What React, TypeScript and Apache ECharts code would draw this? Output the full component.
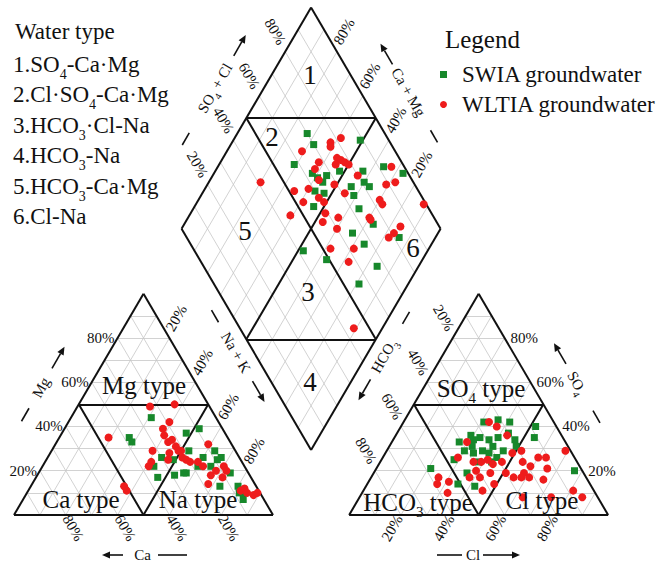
import React, { useEffect, useRef } from "react";
import * as echarts from "echarts";

const SERIF = "Liberation Serif, Times New Roman, serif";
const GREEN = "#17882b";
const RED = "#ee1c1c";
const INK = "#111111";

// ---- geometry constants (unit: triangle side = 1) ----
const H = Math.sqrt(3) / 2;
const GAP = 0.294;
const X_MAX = 2 + GAP;
const Y_MAX = 2;
const RIGHT_OX = 1 + GAP;
const DB = [1 + GAP / 2, GAP * H];

// ---- tick labels ----
const TICKS = [20, 40, 60, 80];
const GRID_STEPS = [10, 20, 30, 40, 50, 60, 70, 80, 90];

// ---- data: cation triangle [Mg %, Na+K %] ----
const swiaCation = [
  [44, 31], [35, 27], [33, 29], [37, 48], [39, 52], [26, 44], [22, 43], [17, 47], [18, 53],
  [19, 57], [22, 60], [26, 60], [29, 63], [26, 67], [22, 65], [19, 74], [13, 73], [13, 80],
  [10, 84], [7, 85], [29, 53], [25, 49], [25, 66], [10, 82], [19, 56],
];
const wltiaCation = [
  [49, 28], [50, 37], [35, 19], [42, 39], [39, 38], [36, 40], [33, 43], [34, 44], [31, 47],
  [29, 49], [29, 39], [24, 41], [22, 41], [25, 47], [26, 52], [25, 54], [24, 56], [24, 59],
  [22, 62], [32, 59], [18, 67], [20, 68], [22, 70], [20, 72], [17, 72], [14, 68], [13, 36],
  [11, 38], [11, 82], [12, 83], [10, 85], [9, 88], [10, 89], [28, 46], [29, 50],
];

// ---- data: anion triangle [SO4 %, Cl %] ----
const swiaAnion = [
  [42, 31], [43, 36], [42, 41], [40, 52], [35, 54], [33, 26], [36, 29], [34, 31], [35, 33],
  [34, 37], [31, 40], [35, 40], [37, 43], [34, 47], [31, 49], [29, 45], [29, 30], [28, 34],
  [29, 37], [28, 40], [26, 44], [25, 28], [24, 38], [24, 43], [19, 36], [21, 21], [14, 35],
  [13, 42], [20, 77], [31, 32],
];
const wltiaAnion = [
  [42, 33], [40, 37], [36, 43], [33, 29], [26, 29], [24, 36], [24, 39], [25, 41], [23, 44],
  [24, 47], [20, 39], [17, 38], [17, 42], [19, 45], [19, 51], [28, 49], [29, 52], [24, 55],
  [19, 58], [22, 59], [17, 55], [17, 58], [17, 61], [26, 60], [26, 63], [16, 67], [29, 69],
  [21, 66], [11, 81], [8, 86], [8, 74], [17, 26], [15, 31], [10, 33], [14, 27], [14, 49],
  [11, 46], [8, 63],
];

// ---- data: diamond [SO4+Cl %, Ca+Mg %] ----
const swiaDiamond = [
  [70, 73], [70, 68], [89, 51], [58, 71], [63, 62], [64, 59], [68, 56], [65, 56], [74, 52],
  [83, 43], [81, 40], [82, 37], [75, 44], [74, 41], [60, 57], [63, 53], [56, 54], [92, 36],
  [98, 27], [73, 36], [75, 27], [65, 33], [67, 26], [82, 14], [42, 48], [49, 37], [67, 16],
  [56, 19],
];
const wltiaDiamond = [
  [77, 62], [82, 59], [76, 61], [64, 71], [68, 62], [76, 56], [77, 54], [78, 52], [74, 55],
  [65, 62], [79, 50], [64, 58], [80, 44], [69, 51], [58, 60], [52, 65], [53, 59], [60, 54],
  [61, 51], [71, 45], [95, 33], [93, 28], [89, 31], [83, 30], [83, 28], [99, 12], [41, 80],
  [45, 61], [59, 48], [56, 47], [63, 42], [60, 40], [75, 30], [75, 29], [85, 16], [81, 17],
  [78, 18], [53, 38], [57, 28], [62, 29], [44, 11],
];

// ---- text content ----
const WATER_TYPES = [
  "1.SO{s|4}-Ca·Mg",
  "2.Cl·SO{s|4}-Ca·Mg",
  "3.HCO{s|3}·Cl-Na",
  "4.HCO{s|3}-Na",
  "5.HCO{s|3}-Ca·Mg",
  "6.Cl-Na",
];

// ternary -> plane
const cationXY = (mg: number, na: number) => [na / 100 + mg / 200, (mg / 100) * H];
const anionXY = (so4: number, cl: number) => [RIGHT_OX + cl / 100 + so4 / 200, (so4 / 100) * H];
const diamondXY = (sc: number, cm: number) => [
  DB[0] + (0.5 * (sc - cm)) / 100,
  DB[1] + (H * (sc + cm)) / 100,
];

function buildSegments() {
  const gray: number[][][] = [];
  const black: number[][][] = [];
  for (const t of GRID_STEPS) {
    gray.push([cationXY(t, 0), cationXY(t, 100 - t)]);
    gray.push([cationXY(0, t), cationXY(100 - t, t)]);
    gray.push([cationXY(0, 100 - t), cationXY(100 - t, 0)]);
    gray.push([anionXY(t, 0), anionXY(t, 100 - t)]);
    gray.push([anionXY(0, t), anionXY(100 - t, t)]);
    gray.push([anionXY(0, 100 - t), anionXY(100 - t, 0)]);
    gray.push([diamondXY(t, 0), diamondXY(t, 100)]);
    gray.push([diamondXY(0, t), diamondXY(100, t)]);
  }
  const tri = (f: (a: number, b: number) => number[]) => {
    const A = f(0, 0), B = f(0, 100), C = f(100, 0);
    black.push([A, B], [B, C], [C, A]);
    black.push([f(50, 0), f(50, 50)]);
    black.push([f(0, 50), f(50, 0)]);
    black.push([f(0, 50), f(50, 50)]);
  };
  tri(cationXY);
  tri(anionXY);
  const dB = diamondXY(0, 0), dL = diamondXY(0, 100), dR = diamondXY(100, 0), dT = diamondXY(100, 100);
  black.push([dB, dL], [dL, dT], [dT, dR], [dR, dB]);
  black.push([diamondXY(50, 100), diamondXY(100, 50)]);
  black.push([diamondXY(50, 0), diamondXY(0, 50)]);
  black.push([diamondXY(50, 0), diamondXY(50, 100)]);
  black.push([diamondXY(0, 50), diamondXY(100, 50)]);
  return { gray, black };
}

const sub = (size: number, pad: number) => ({
  fontSize: size,
  fontFamily: SERIF,
  fill: INK,
  padding: [pad, 0, 0, 0],
});

function txt(
  x: number,
  y: number,
  text: string,
  fontSize: number,
  opts: { rot?: number; align?: string; rich?: any } = {}
) {
  const align = opts.align || "center";
  return {
    type: "text",
    x,
    y,
    rotation: ((opts.rot || 0) * Math.PI) / 180,
    silent: true,
    z: 10,
    style: {
      text,
      fontSize,
      fontFamily: SERIF,
      fill: INK,
      align,
      textAlign: align,
      verticalAlign: "middle",
      textVerticalAlign: "middle",
      rich: opts.rich,
    },
  };
}

// axis title: dash, text and arrow laid out along a rotated local x axis
function axisTitle(
  cx: number,
  cy: number,
  rot: number,
  dash: [number, number],
  textX: number,
  text: string,
  arrow: [number, number]
) {
  const [tail, head] = arrow;
  const dir = Math.sign(head - tail);
  const base = head - dir * 8;
  return {
    type: "group",
    x: cx,
    y: cy,
    rotation: (rot * Math.PI) / 180,
    silent: true,
    z: 10,
    children: [
      { type: "line", shape: { x1: dash[0], y1: 0, x2: dash[1], y2: 0 }, style: { stroke: INK, lineWidth: 1.6 } },
      { type: "line", shape: { x1: tail, y1: 0, x2: base, y2: 0 }, style: { stroke: INK, lineWidth: 1.6 } },
      {
        type: "polygon",
        shape: { points: [[head, 0], [base, -3.6], [base, 3.6]] },
        style: { fill: INK },
      },
      {
        type: "text",
        x: textX,
        y: 0,
        style: {
          text,
          fontSize: 15,
          fontFamily: SERIF,
          fill: INK,
          align: "center",
          textAlign: "center",
          verticalAlign: "middle",
          textVerticalAlign: "middle",
          rich: { s: sub(10, 13) },
        },
      },
    ],
  };
}

export default function App() {
  const ref = useRef<HTMLDivElement>(null);
  useEffect(() => {
    document.body.style.margin = "0";
    const chart = echarts.init(ref.current!, null, { renderer: "svg" });
    const { gray, black } = buildSegments();
    const scatter = (name: string, symbol: string, size: number, color: string, data: number[][], z: number) => ({
      type: "scatter",
      name,
      symbol,
      symbolSize: size,
      itemStyle: { color, opacity: 1 },
      data,
      z,
      silent: true,
    });
    chart.setOption({
      animation: false,
      backgroundColor: "#ffffff",
      textStyle: { fontFamily: SERIF },
      grid: { left: 14, top: 4, width: X_MAX * 259, height: Y_MAX * 255.5 },
      xAxis: { type: "value", min: 0, max: X_MAX, show: false },
      yAxis: { type: "value", min: 0, max: Y_MAX, show: false },
      legend: {
        orient: "vertical",
        left: 440,
        top: 63,
        padding: 0,
        itemWidth: 7,
        itemHeight: 7,
        itemGap: 7,
        selectedMode: false,
        textStyle: { fontFamily: SERIF, fontSize: 23, color: INK, padding: [0, 0, 0, 10] },
        data: [
          { name: "SWIA groundwater", icon: "rect" },
          { name: "WLTIA groundwater", icon: "circle" },
        ],
      },
      series: [
        {
          type: "lines",
          coordinateSystem: "cartesian2d",
          polyline: false,
          silent: true,
          z: 1,
          lineStyle: { color: "#c6c6c6", width: 0.8, opacity: 1 },
          data: gray.map((c) => ({ coords: c })),
        },
        {
          type: "lines",
          coordinateSystem: "cartesian2d",
          polyline: false,
          silent: true,
          z: 2,
          lineStyle: { color: INK, width: 2, opacity: 1 },
          data: black.map((c) => ({ coords: c })),
        },
        scatter("SWIA groundwater", "rect", 7, GREEN, swiaCation.map(([a, b]) => cationXY(a, b)), 4),
        scatter("SWIA groundwater", "rect", 7, GREEN, swiaAnion.map(([a, b]) => anionXY(a, b)), 4),
        scatter("SWIA groundwater", "rect", 7, GREEN, swiaDiamond.map(([a, b]) => diamondXY(a, b)), 4),
        scatter("WLTIA groundwater", "circle", 8, RED, wltiaCation.map(([a, b]) => cationXY(a, b)), 5),
        scatter("WLTIA groundwater", "circle", 8, RED, wltiaAnion.map(([a, b]) => anionXY(a, b)), 5),
        scatter("WLTIA groundwater", "circle", 8, RED, wltiaDiamond.map(([a, b]) => diamondXY(a, b)), 5),
      ],
    });

    const px = (p: number[]) => chart.convertToPixel({ gridIndex: 0 }, p) as number[];
    const g: any[] = [];
    const PCT = 15;
    for (const t of TICKS) {
      const lab = t + "%";
      let p = px(cationXY(t, 0));
      g.push(txt(p[0] - 3, p[1], lab, PCT, { align: "right" }));
      p = px(cationXY(0, 100 - t));
      g.push(txt(p[0] + 7.5, p[1] + 13, lab, PCT, { rot: -60 }));
      p = px(cationXY(100 - t, t));
      g.push(txt(p[0] + 7, p[1] - 20, lab, PCT, { rot: 60 }));
      p = px(anionXY(100 - t, 0));
      g.push(txt(p[0] - 9, p[1] - 20, lab, PCT, { rot: -60 }));
      p = px(anionXY(0, t));
      g.push(txt(p[0] - 9, p[1] + 13, lab, PCT, { rot: 60 }));
      p = px(anionXY(t, 100 - t));
      g.push(txt(p[0] + 6, p[1], lab, PCT, { align: "left" }));
      p = px(diamondXY(t, 100));
      g.push(txt(p[0] - 10, p[1] - 20, lab, PCT, { rot: -60 }));
      p = px(diamondXY(100, t));
      g.push(txt(p[0] + 7, p[1] - 20, lab, PCT, { rot: 60 }));
    }

    // axis titles
    g.push(axisTitle(43, 384, 60, [-43, -28], -4, "Mg", [18, 43]));
    g.push(axisTitle(144.5, 555, 0, [13.5, 42.5], -2, "Ca", [-21.5, -42.5]));
    g.push(axisTitle(238, 356, -60, [-53, -39], -4, "Na + K", [29, 53]));
    g.push(axisTitle(384, 356, 60, [37, 51], 0, "HCO{s|3}", [-27, -51]));
    g.push(axisTitle(214, 90, 60, [-63.5, -49.5], 2, "SO{s|4} + Cl", [39.5, 63.5]));
    g.push(axisTitle(409, 93, -60, [43, 57], -1, "Ca + Mg", [-33, -57]));
    g.push(axisTitle(577, 383, -60, [32, 46], 0, "SO{s|4}", [-22, -46]));
    g.push(axisTitle(478.5, 555, 0, [-41.5, -16.5], -5.5, "Cl", [4.5, 41.5]));

    const RG = 25;
    const rRich = { s: sub(15, 20) };
    g.push(txt(144, 385, "Mg type", RG));
    g.push(txt(81, 499, "Ca type", RG));
    g.push(txt(198, 499, "Na type", RG));
    g.push(txt(481, 388, "SO{s|4} type", RG, { rich: rRich }));
    g.push(txt(418, 502, "HCO{s|3} type", RG, { rich: rRich }));
    g.push(txt(542, 500, "Cl type", RG));

    const NUM = 27;
    g.push(txt(310, 75, "1", NUM));
    g.push(txt(272, 137, "2", NUM));
    g.push(txt(308, 292, "3", NUM));
    g.push(txt(310, 382, "4", NUM));
    g.push(txt(245, 231, "5", NUM));
    g.push(txt(413, 248, "6", NUM));

    const WT = 23;
    g.push(txt(15, 31, "Water type", WT, { align: "left" }));
    const wRich = { s: sub(14, 20) };
    WATER_TYPES.forEach((s, i) => {
      g.push(txt(13, 64.5 + i * 30.4, s, WT, { align: "left", rich: wRich }));
    });

    g.push(txt(445, 39, "Legend", 25, { align: "left" }));

    chart.setOption({ graphic: { elements: g } });
    return () => chart.dispose();
  }, []);
  return <div ref={ref} style={{ width: 659, height: 563 }} />;
}
